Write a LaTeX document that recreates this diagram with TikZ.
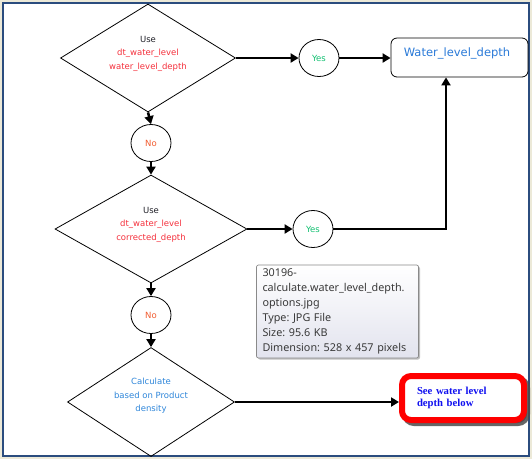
\documentclass[tikz,border=0pt]{standalone}
\usepackage{fontspec}
\setmainfont{DejaVu Sans}
\newfontfamily\tipfont{Noto Sans}
\newfontfamily\timesfont{Liberation Serif}
\usetikzlibrary{shapes.geometric,arrows.meta,shadows}
\definecolor{framebg}{HTML}{ECE9D8}
\definecolor{frameblue}{HTML}{2B4C7E}
\definecolor{txtred}{HTML}{F5303C}
\definecolor{txtno}{HTML}{F25C30}
\definecolor{txtyes}{HTML}{10C070}
\definecolor{txtblue}{HTML}{2E86DA}
\definecolor{wldblue}{HTML}{2A7AD8}
\definecolor{usetxt}{HTML}{202028}
\definecolor{tipgray}{HTML}{8A8A8A}
\definecolor{tiptext}{HTML}{3A3A3A}
\definecolor{tipbot}{HTML}{E2E3EE}
\definecolor{seeblue}{HTML}{1010F0}
\hyphenpenalty=10000
\begin{document}
\begin{tikzpicture}[x=1pt,y=-1pt,
  decision/.style={draw=black, line width=0.8pt, diamond, minimum height=108pt, aspect=1.6, inner sep=0pt},
  dtext/.style={align=center, font=\fontsize{8.5}{13.5}\selectfont},
  answer/.style={draw=black, line width=0.8pt, ellipse, minimum width=40pt, minimum height=37pt, inner sep=0pt, font=\fontsize{8.5}{10}\selectfont},
  conn/.style={line width=2.5pt, -{Triangle[length=8pt,width=9pt]}}
]
\useasboundingbox (0,0) rectangle (532,459);
\fill[framebg] (0,0) rectangle (532,459);
\draw[frameblue, fill=white, line width=1.5pt] (3,3) rectangle (529,456);

% decisions
\node[decision, minimum width=175pt,
  label={[dtext, yshift=4.5pt]center:{{\color{usetxt}Use}\\{\color{txtred}dt\_water\_level}\\{\color{txtred}water\_level\_depth}}}]
  (d1) at (148,58) {};
\node[decision, minimum width=192pt,
  label={[dtext, yshift=4.5pt]center:{{\color{usetxt}Use}\\{\color{txtred}dt\_water\_level}\\{\color{txtred}corrected\_depth}}}]
  (d2) at (151,229) {};
\node[decision, minimum width=167pt, minimum height=109pt,
  label={[dtext, text=txtblue, yshift=6pt]center:{Calculate\\based on Product\\density}}]
  (d3) at (151,402) {};

% answers
\node[answer, text=txtno] (n1) at (151,143) {No};
\node[answer, text=txtno] (n2) at (151,315) {No};
\node[answer, text=txtyes] (y1) at (319,58) {Yes};
\node[answer, text=txtyes] (y2) at (313,229) {Yes};

% result box
\node[draw=black, line width=0.8pt, rounded corners=6pt, minimum width=137pt, minimum height=39pt, inner sep=0pt,
  label={[font=\fontsize{11.5}{13}\selectfont, text=wldblue, xshift=-2.5pt, yshift=4.5pt]center:Water\_level\_depth}]
  (wld) at (459.5,57.5) {};

% red box
\node[draw=red, line width=6pt, rounded corners=9pt, fill=white,
  drop shadow={shadow xshift=3pt, shadow yshift=-3pt, opacity=0.85, fill=black!70, draw=black!70, line width=6pt},
  minimum width=122pt, minimum height=44pt, text width=92pt, inner xsep=15pt, inner ysep=0pt,
  align=left, text=seeblue, font=\timesfont\bfseries\fontsize{10.7}{11.5}\selectfont]
  (see) at (463,398) {See water level\\depth below};

% tooltip
\node[draw=tipgray, line width=0.7pt, rounded corners=2pt, top color=white, bottom color=tipbot,
  drop shadow={shadow xshift=1.5pt, shadow yshift=-1.5pt, opacity=0.25, fill=black},
  minimum width=159pt, minimum height=93pt, text width=150pt, inner xsep=6pt, inner ysep=0pt,
  align=left, text=tiptext, font=\tipfont\fontsize{10.8}{15}\selectfont\frenchspacing]
  (tip) at (337.5,311.5) {30196-\\calculate.water\_level\_depth.\\options.jpg\\Type: JPG File\\Size: 95.6 KB\\Dimension: 528 x 457 pixels};

% connectors
\draw[conn] (d1.east) -- (y1.west);
\draw[conn] (y1.east) -- (y1.east -| wld.west);
\draw[conn] (d1.south) -- (n1.north);
\draw[conn] (n1.south) -- (d2.north);
\draw[conn] (d2.east) -- (y2.west);
\draw[conn] (y2.east) -| ([xshift=-13.5pt]wld.south);
\draw[conn] (d2.south) -- (n2.north);
\draw[conn] (n2.south) -- (d3.north);
\draw[conn] (d3.east) -- (d3.east -| see.west);
\end{tikzpicture}
\end{document}
